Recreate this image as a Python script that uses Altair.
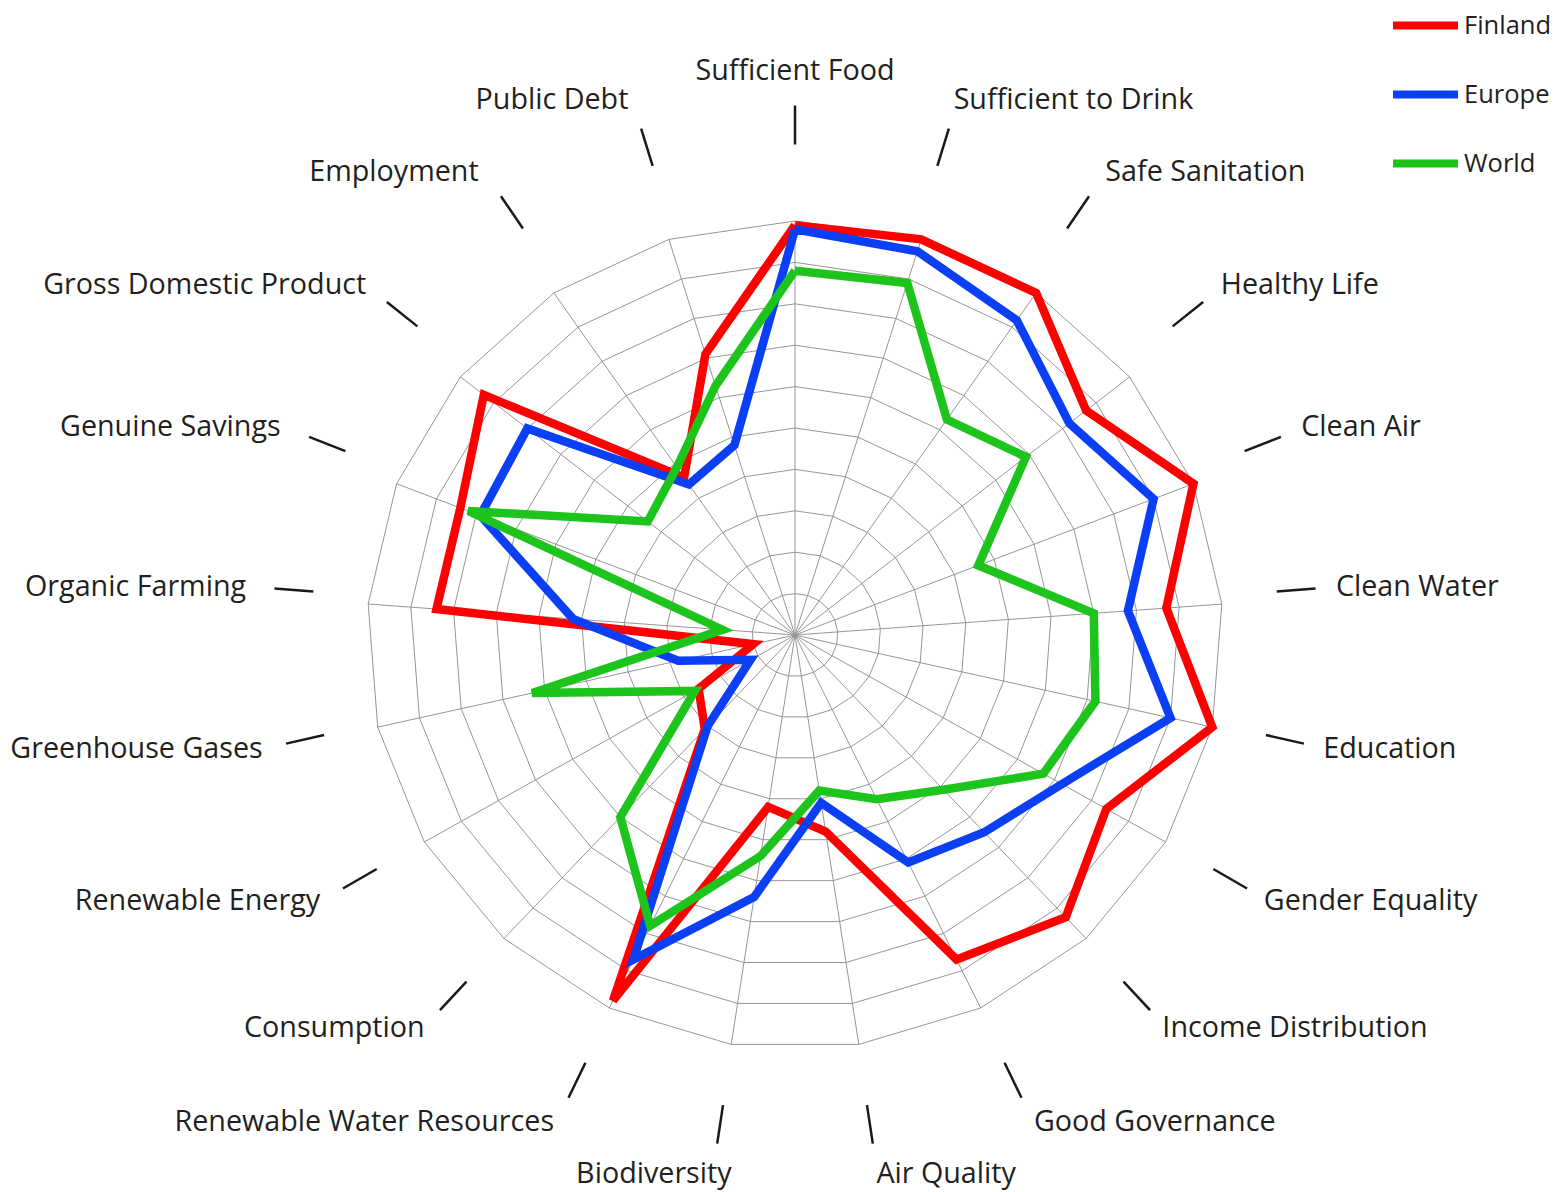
import altair as alt
import pandas as pd

# ---------------- data ----------------
indicators = [
    "Sufficient Food", "Sufficient to Drink", "Safe Sanitation", "Healthy Life",
    "Clean Air", "Clean Water", "Education", "Gender Equality",
    "Income Distribution", "Good Governance", "Air Quality", "Biodiversity",
    "Renewable Water Resources", "Consumption", "Renewable Energy",
    "Greenhouse Gases", "Organic Farming", "Genuine Savings",
    "Gross Domestic Product", "Employment", "Public Debt",
]
finland = [0.99, 1.00, 1.00, 0.87, 1.00, 0.87, 1.00, 0.84, 0.93, 0.87, 0.48,
           0.42, 0.98, 0.31, 0.26, 0.10, 0.84, 0.84, 0.93, 0.46, 0.71]
europe = [0.98, 0.97, 0.92, 0.82, 0.90, 0.78, 0.90, 0.72, 0.65, 0.61, 0.41,
          0.64, 0.87, 0.30, 0.12, 0.28, 0.52, 0.79, 0.80, 0.44, 0.48]
world = [0.88, 0.89, 0.63, 0.69, 0.46, 0.70, 0.72, 0.67, 0.51, 0.44, 0.38,
         0.54, 0.78, 0.60, 0.27, 0.63, 0.17, 0.82, 0.44, 0.49, 0.63]
series_names = ["Finland", "Europe", "World"]
series_colors = ["#ff0000", "#0b3ff5", "#1cc41c"]
ring_levels = [0.1, 0.2, 0.3, 0.4, 0.5, 0.6, 0.7, 0.8, 0.9, 1.0]
title_text = "Indicator scores Finland SSI 2012"

# ---------------- layout ----------------
N = len(indicators)
W, H = 1550, 1184
CX, CY = 787, 627          # centre of the web, plot pixels
PX_X, PX_Y = 428, 414      # pixels per unit radius (x, y)
R_IN, R_OUT, DY = 483, 522, 7.5
R_LAB, LAB_DX = 546, -4
FONT = "Open Sans"
TXT = "#231f20"
# small per-label nudges (pixels, +x right, +y down) following the original
label_nudge = {"Sufficient Food": (4, -5), "Safe Sanitation": (4, 0),
               "Biodiversity": (22, 7), "Air Quality": (4, 7),
               "Good Governance": (6, 3), "Renewable Water Resources": (0, 3),
               "Employment": (-2, 0), "Consumption": (5, 0),
               "Renewable Energy": (2, 0), "Greenhouse Gases": (4, 0),
               "Gross Domestic Product": (5, 0)}

xs = alt.Scale(domain=[-CX / PX_X, (W - CX) / PX_X], nice=False, zero=False)
ys = alt.Scale(domain=[-(H - CY) / PX_Y, CY / PX_Y], nice=False, zero=False)

ANG = f"datum.k * 2 * PI / {N}"

# ---------------- tables ----------------
rows = []
for name, vals in zip(series_names, [finland, europe, world]):
    for k in range(N + 1):
        rows.append({"series": name, "k": k, "value": vals[k % N]})
series_df = pd.DataFrame(rows)

ring_df = pd.DataFrame([{"ring": r, "k": k, "value": r}
                        for r in ring_levels for k in range(N + 1)])
axis_df = pd.DataFrame({
    "k": list(range(N)), "label": indicators,
    "ndx": [label_nudge.get(n, (0, 0))[0] for n in indicators],
    "ndy": [label_nudge.get(n, (0, 0))[1] for n in indicators],
})

X = lambda f: alt.X(f, type="quantitative", scale=xs, axis=None)
Y = lambda f: alt.Y(f, type="quantitative", scale=ys, axis=None)

rings = alt.Chart(ring_df).transform_calculate(
    ang=ANG, x="datum.value * sin(datum.ang)", y="datum.value * cos(datum.ang)"
).mark_line(stroke="#969696", strokeWidth=1).encode(
    x=X("x"), y=Y("y"), detail="ring:N", order="k:Q")

spokes = alt.Chart(axis_df).transform_calculate(
    ang=ANG, x0="0", y0="0", x1="sin(datum.ang)", y1="cos(datum.ang)"
).mark_rule(stroke="#969696", strokeWidth=1).encode(
    x=X("x0"), y=Y("y0"), x2="x1:Q", y2="y1:Q")

ticks = alt.Chart(axis_df).transform_calculate(
    ang=ANG,
    x0=f"{R_IN} * sin(datum.ang) / {PX_X}",
    y0=f"({R_IN} * cos(datum.ang) + {DY}) / {PX_Y}",
    x1=f"{R_OUT} * sin(datum.ang) / {PX_X}",
    y1=f"({R_OUT} * cos(datum.ang) + {DY}) / {PX_Y}",
).mark_rule(stroke="#1a1a1a", strokeWidth=2.5).encode(
    x=X("x0"), y=Y("y0"), x2="x1:Q", y2="y1:Q")

label_base = alt.Chart(axis_df).transform_calculate(
    ang=ANG,
    s="sin(datum.ang)",
    c="cos(datum.ang)",
    rl=f"{R_LAB} + 6 * max(cos(datum.ang), 0)",
).transform_calculate(
    lx=f"(datum.rl * datum.s + {LAB_DX} + datum.ndx) / {PX_X}",
    ly=f"(datum.rl * datum.c + {DY} - datum.ndy) / {PX_Y}",
)
label_kw = dict(font=FONT, fontSize=28.7, color=TXT, baseline="middle")
labels_r = label_base.transform_filter("datum.s > 0.05").mark_text(
    align="left", **label_kw).encode(x=X("lx"), y=Y("ly"), text="label:N")
labels_l = label_base.transform_filter("datum.s < -0.05").mark_text(
    align="right", **label_kw).encode(x=X("lx"), y=Y("ly"), text="label:N")
labels_c = label_base.transform_filter("abs(datum.s) <= 0.05").mark_text(
    align="center", **label_kw).encode(x=X("lx"), y=Y("ly"), text="label:N")

legend = alt.Legend(
    title=None, orient="none", legendX=1381, legendY=-19,
    symbolType="stroke", symbolSize=4225, symbolStrokeWidth=8,
    labelFont=FONT, labelFontSize=25.5, labelColor=TXT, labelOffset=2,
    rowPadding=16,
)
color = alt.Color("series:N", scale=alt.Scale(domain=series_names,
                                              range=series_colors),
                  legend=legend)

series_layers = []
for name in series_names:
    series_layers.append(
        alt.Chart(series_df).transform_filter(f"datum.series == '{name}'")
        .transform_calculate(ang=ANG,
                             x="datum.value * sin(datum.ang)",
                             y="datum.value * cos(datum.ang)")
        .mark_line(strokeWidth=8.5, strokeJoin="miter", strokeMiterLimit=4)
        .encode(x=X("x"), y=Y("y"), color=color, order="k:Q")
    )

chart = alt.layer(rings, spokes, ticks, labels_r, labels_l, labels_c,
                  *series_layers).properties(
    width=W, height=H, padding=0,
    autosize=alt.AutoSizeParams(type="none"),
    title=alt.TitleParams(title_text, font=FONT, fontSize=40,
                          fontWeight="bold", color="#111", anchor="middle",
                          offset=-3, dx=-66, baseline="alphabetic"),
).configure_view(stroke=None)

chart.save("out.html", embed_options={"renderer": "svg", "actions": False})
